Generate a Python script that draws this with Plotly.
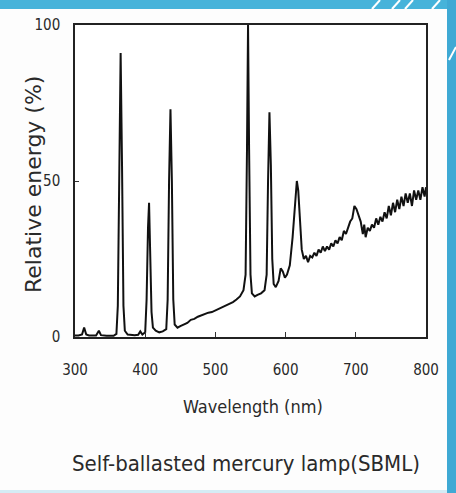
import plotly.graph_objects as go

wavelength = [300, 305, 310, 313, 316, 320, 330, 334, 337, 345, 355, 359, 361, 363, 365, 367, 369, 371, 375,
              385, 390, 393, 396, 400, 402, 404, 405.5, 407, 409, 411, 415, 420, 425, 430, 432, 434, 436, 438,
              440, 442, 446, 450, 455, 460, 465, 470, 475, 480, 485, 490, 495, 500, 505, 510, 515, 520, 525,
              530, 535, 540, 543, 545, 546.5, 548, 550, 552, 556, 560, 565, 570, 573, 575, 577, 579, 581, 583,
              586, 590, 593, 596, 599, 602, 606, 610, 613, 616, 618, 620, 623, 626, 629, 632, 635, 638, 641,
              644, 647, 650, 653, 656, 659, 662, 665, 668, 671, 674, 677, 680, 683, 686, 689, 692, 695, 698,
              701, 704, 707, 710, 712, 714, 717, 720, 723, 726, 729, 732, 735, 738, 741, 744, 747, 750, 753,
              756, 759, 762, 765, 768, 771, 774, 777, 780, 783, 786, 789, 792, 795, 798, 800]
energy = [0.5, 0.5, 0.8, 3.0, 0.8, 0.5, 0.5, 2.0, 0.6, 0.4, 0.4, 1.0, 10, 60, 91, 55, 10, 2, 0.8,
          0.6, 0.7, 1.8, 0.8, 1.5, 12, 35, 43, 28, 8, 3, 2, 1.5, 1.8, 2.5, 12, 50, 73, 50,
          12, 4, 3, 3.5, 4, 4.5, 5.5, 5.8, 6.5, 7, 7.5, 7.8, 8, 8.5, 9, 9.5, 10, 10.5, 11.2,
          12, 13, 15, 20, 60, 100, 60, 20, 14, 13, 13.5, 14, 15, 20, 50, 72, 55, 25, 17,
          16, 18, 22, 21, 19, 20, 23, 32, 42, 50, 47, 38, 28, 25, 26, 24, 26, 25.5, 27,
          26, 28, 27, 29, 27.5, 29, 28, 30, 29, 31, 30, 32, 31, 34, 33, 35, 37, 38, 42,
          41, 39, 37, 33, 36, 32, 35, 34, 36, 35, 38, 36, 38.5, 37, 40, 38, 42, 39, 43,
          40, 44, 41, 45, 42, 46, 43, 46, 42, 47, 44, 47, 44, 48, 45, 48]

x_ticks = [300, 400, 500, 600, 700, 800]
y_ticks = [0, 50, 100]

W, H = 456, 493
L, R, T, B = 75, 426, 25, 337
pw, ph = R - L, B - T

def px(x):
    return (x - L) / pw

def py(y):
    return (B - y) / ph

NARROW = "DejaVu Sans Condensed, Liberation Sans, sans-serif"

fig = go.Figure()
fig.add_trace(go.Scatter(x=wavelength, y=energy, mode="lines",
                         line=dict(color="#111111", width=2), showlegend=False,
                         cliponaxis=True))

tickfont = dict(family=NARROW, size=15, color="#2a2a2a")
fig.update_xaxes(range=[300, 800], tickvals=x_ticks, ticks="inside", ticklen=5, tickwidth=1,
                 tickcolor="#333", showline=True, linecolor="#222", linewidth=1.5, mirror=True,
                 showgrid=False, zeroline=False, tickfont=tickfont, ticklabelstandoff=18)
fig.update_yaxes(range=[0, 100], tickvals=y_ticks, ticks="inside", ticklen=4, tickwidth=1,
                 tickcolor="#333", showline=True, linecolor="#222", linewidth=1.5, mirror=True,
                 showgrid=False, zeroline=False, tickfont=tickfont, ticklabelstandoff=10)

annotations = [
    dict(text="Wavelength (nm)", x=px(253), y=py(406), font=dict(family=NARROW, size=18, color="#2a2a2a")),
    dict(text="Self-ballasted mercury lamp(SBML)", x=px(246), y=py(464), font=dict(family=NARROW, size=22, color="#2a2a2a")),
    dict(text="Relative energy (%)", x=px(33), y=py(185), textangle=-90, font=dict(family="DejaVu Sans", size=22, color="#2a2a2a")),
]
for a in annotations:
    fig.add_annotation(xref="paper", yref="paper", showarrow=False, xanchor="center", yanchor="middle", **a)

shapes = [
    dict(type="rect", x0=px(0), x1=px(W), y0=py(9), y1=py(0), fillcolor="#46b3da", line_width=0),
    dict(type="rect", x0=px(447), x1=px(W), y0=py(H), y1=py(0), fillcolor="#3fa9d4", line_width=0),
    dict(type="rect", x0=px(0), x1=px(447), y0=py(H), y1=py(490), fillcolor="#d5ecf5", line_width=0),
    dict(type="line", x0=px(372), y0=py(9), x1=px(380), y1=py(0), line=dict(color="white", width=2)),
    dict(type="line", x0=px(392), y0=py(9), x1=px(400), y1=py(0), line=dict(color="white", width=2)),
    dict(type="line", x0=px(405), y0=py(9), x1=px(413), y1=py(0), line=dict(color="white", width=2)),
    dict(type="line", x0=px(432), y0=py(9), x1=px(440), y1=py(0), line=dict(color="white", width=2)),
    dict(type="line", x0=px(449), y0=py(60), x1=px(456), y1=py(47), line=dict(color="white", width=2)),
]
for s in shapes:
    fig.add_shape(xref="paper", yref="paper", layer="below" if s["type"] == "rect" else "above", **s)

fig.update_layout(width=W, height=H, margin=dict(l=L, r=W - R, t=T, b=H - B),
                  paper_bgcolor="#fdfdfd", plot_bgcolor="#ffffff")

fig.write_html("out.html")
